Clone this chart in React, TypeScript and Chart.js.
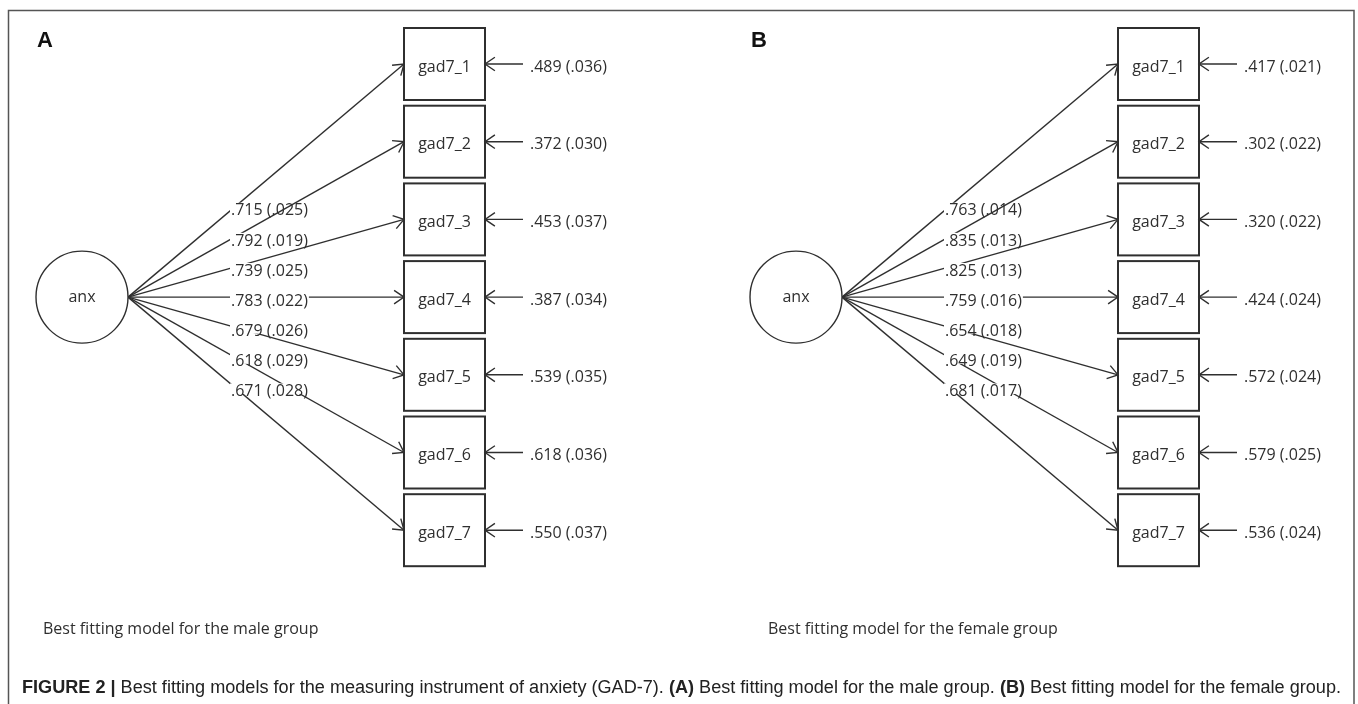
import { useEffect, useRef } from 'react';
import { Chart, registerables } from 'chart.js';

Chart.register(...registerables);

// ---------------- data ----------------
const items = ['gad7_1', 'gad7_2', 'gad7_3', 'gad7_4', 'gad7_5', 'gad7_6', 'gad7_7'];
const latentLabel = 'anx';

const maleLoadings = [0.715, 0.792, 0.739, 0.783, 0.679, 0.618, 0.671];
const maleLoadingSE = [0.025, 0.019, 0.025, 0.022, 0.026, 0.029, 0.028];
const maleResiduals = [0.489, 0.372, 0.453, 0.387, 0.539, 0.618, 0.55];
const maleResidualSE = [0.036, 0.03, 0.037, 0.034, 0.035, 0.036, 0.037];

const femaleLoadings = [0.763, 0.835, 0.825, 0.759, 0.654, 0.649, 0.681];
const femaleLoadingSE = [0.014, 0.013, 0.013, 0.016, 0.018, 0.019, 0.017];
const femaleResiduals = [0.417, 0.302, 0.32, 0.424, 0.572, 0.579, 0.536];
const femaleResidualSE = [0.021, 0.022, 0.022, 0.024, 0.024, 0.025, 0.024];

const panelLetters = ['A', 'B'];
const panelSubtitles = ['Best fitting model for the male group', 'Best fitting model for the female group'];
const captionParts: { text: string; bold: boolean }[] = [
  { text: 'FIGURE 2 |', bold: true },
  { text: ' Best fitting models for the measuring instrument of anxiety (GAD-7). ', bold: false },
  { text: '(A)', bold: true },
  { text: ' Best fitting model for the male group. ', bold: false },
  { text: '(B)', bold: true },
  { text: ' Best fitting model for the female group.', bold: false },
];

// ---------------- layout ----------------
const W = 1358;
const H = 704;
const ROW0 = 64; // pixel centre of first indicator row
const PITCH = 77.7; // pixels between rows
const LATENT_ROW = 3;
const PANEL_OFFSETS = [0, 714];
const ANX_CX = 82;
const ANX_R = 46;
const BOX_L = 404;
const BOX_W = 81;
const BOX_H = 72;
const RES_TAIL = 523;
const RES_TEXT_GAP = 7;
const LABEL_X = 231;
const SUB_X = [43, 768];
const SUB_W = [279, 293];
const SUB_Y = 629;
const LETTER_X = 37;
const LETTER_Y = 47;
const CAP_X = 22;
const CAP_BASE = 693;
const CAP_W = 1319;

const INK = '#2f2f2f';
const DIAG_FONT = '16px "Open Sans"';

const fmt = (v: number) => v.toFixed(3).replace(/^0/, '');

function arrowHead(ctx: CanvasRenderingContext2D, fx: number, fy: number, tx: number, ty: number) {
  const a = Math.atan2(ty - fy, tx - fx);
  const len = 12;
  const sp = 0.6;
  ctx.save();
  ctx.strokeStyle = INK;
  ctx.lineWidth = 1.4;
  ctx.beginPath();
  ctx.moveTo(tx - len * Math.cos(a - sp), ty - len * Math.sin(a - sp));
  ctx.lineTo(tx, ty);
  ctx.lineTo(tx - len * Math.cos(a + sp), ty - len * Math.sin(a + sp));
  ctx.stroke();
  ctx.restore();
}

function buildDatasets() {
  const panels = [
    { l: maleLoadings, ls: maleLoadingSE, r: maleResiduals, rs: maleResidualSE },
    { l: femaleLoadings, ls: femaleLoadingSE, r: femaleResiduals, rs: femaleResidualSE },
  ];
  const ds: any[] = [];
  panels.forEach((p, pi) => {
    const off = PANEL_OFFSETS[pi];
    items.forEach((_, i) => {
      ds.push({
        kind: 'path',
        text: `${fmt(p.l[i])} (${fmt(p.ls[i])})`,
        panel: pi,
        data: [
          { x: off + ANX_CX + ANX_R, y: LATENT_ROW },
          { x: off + BOX_L, y: i },
        ],
        showLine: true,
        borderColor: INK,
        borderWidth: 1.4,
        pointRadius: 0,
        order: 1000 - (pi * 20 + i),
      });
    });
    items.forEach((_, i) => {
      ds.push({
        kind: 'resid',
        text: `${fmt(p.r[i])} (${fmt(p.rs[i])})`,
        panel: pi,
        data: [
          { x: off + RES_TAIL, y: i },
          { x: off + BOX_L + BOX_W, y: i },
        ],
        showLine: true,
        borderColor: INK,
        borderWidth: 1.4,
        pointRadius: 0,
        order: 500,
      });
    });
    ds.push({
      kind: 'latent',
      panel: pi,
      data: [{ x: off + ANX_CX, y: LATENT_ROW }],
      pointRadius: ANX_R,
      pointStyle: 'circle',
      backgroundColor: '#ffffff',
      borderColor: INK,
      borderWidth: 1.4,
      order: 0,
    });
  });
  return ds;
}

const diagramPlugin = {
  id: 'semDiagram',
  beforeDraw(chart: any) {
    const ctx = chart.ctx;
    ctx.save();
    ctx.fillStyle = '#ffffff';
    ctx.fillRect(0, 0, chart.width, chart.height);
    ctx.restore();
  },
  afterDatasetDraw(chart: any, args: any) {
    const ds = chart.data.datasets[args.index];
    const pts = args.meta.data;
    const ctx: CanvasRenderingContext2D = chart.ctx;
    if (ds.kind === 'path') {
      const p0 = pts[0];
      const p1 = pts[1];
      arrowHead(ctx, p0.x, p0.y, p1.x, p1.y);
      const lx = chart.scales.x.getPixelForValue(PANEL_OFFSETS[ds.panel] + LABEL_X);
      const slope = (p1.y - p0.y) / (p1.x - p0.x);
      const ly = p0.y + (lx + 1 - p0.x) * slope;
      const cy = ly + 3 + 3 * slope;
      ctx.save();
      ctx.font = DIAG_FONT;
      const w = ctx.measureText(ds.text).width;
      ctx.fillStyle = '#ffffff';
      ctx.fillRect(lx - 1, cy - 7, w + 2, 10.5);
      ctx.fillStyle = INK;
      ctx.textAlign = 'left';
      ctx.textBaseline = 'alphabetic';
      ctx.fillText(ds.text, lx, cy + 5.7);
      ctx.restore();
    } else if (ds.kind === 'resid') {
      const p0 = pts[0];
      const p1 = pts[1];
      arrowHead(ctx, p0.x, p0.y, p1.x, p1.y);
      ctx.save();
      ctx.font = DIAG_FONT;
      ctx.fillStyle = INK;
      ctx.textAlign = 'left';
      ctx.textBaseline = 'alphabetic';
      ctx.fillText(ds.text, p0.x + RES_TEXT_GAP, p0.y + 7.5);
      ctx.restore();
    }
  },
  afterDatasetsDraw(chart: any) {
    const ctx: CanvasRenderingContext2D = chart.ctx;
    const xs = chart.scales.x;
    const ys = chart.scales.y;
    PANEL_OFFSETS.forEach((off, pi) => {
      // indicator boxes
      items.forEach((name, i) => {
        const cy = ys.getPixelForValue(i);
        const left = xs.getPixelForValue(off + BOX_L);
        const right = xs.getPixelForValue(off + BOX_L + BOX_W);
        ctx.save();
        ctx.strokeStyle = INK;
        ctx.lineWidth = 2;
        ctx.strokeRect(left, cy - BOX_H / 2, right - left, BOX_H);
        ctx.font = DIAG_FONT;
        ctx.fillStyle = INK;
        ctx.textAlign = 'center';
        ctx.textBaseline = 'alphabetic';
        ctx.fillText(name, (left + right) / 2, cy + 7.5);
        ctx.restore();
      });
      // latent label
      const ax = xs.getPixelForValue(off + ANX_CX);
      const ay = ys.getPixelForValue(LATENT_ROW);
      ctx.save();
      ctx.font = DIAG_FONT;
      ctx.fillStyle = INK;
      ctx.textAlign = 'center';
      ctx.textBaseline = 'alphabetic';
      ctx.fillText(latentLabel, ax, ay + 5);
      // panel letter
      ctx.font = 'bold 22px "Liberation Sans", Arial, sans-serif';
      ctx.fillStyle = '#111111';
      ctx.textAlign = 'left';
      ctx.fillText(panelLetters[pi], LETTER_X + off, LETTER_Y);
      // subtitle
      ctx.font = '16px "Open Sans"';
      ctx.fillStyle = INK;
      ctx.textBaseline = 'middle';
      ctx.fillText(panelSubtitles[pi], SUB_X[pi], SUB_Y, SUB_W[pi]);
      ctx.restore();
    });
    // caption
    ctx.save();
    const fontFor = (b: boolean) => `${b ? 'bold ' : ''}18px "Liberation Sans", Arial, sans-serif`;
    let total = 0;
    captionParts.forEach((p) => {
      ctx.font = fontFor(p.bold);
      total += ctx.measureText(p.text).width;
    });
    const k = CAP_W / total;
    ctx.translate(CAP_X, CAP_BASE);
    ctx.scale(k, 1);
    ctx.fillStyle = '#222222';
    ctx.textBaseline = 'alphabetic';
    ctx.textAlign = 'left';
    let x = 0;
    captionParts.forEach((p) => {
      ctx.font = fontFor(p.bold);
      ctx.fillText(p.text, x, 0);
      x += ctx.measureText(p.text).width;
    });
    ctx.restore();
    // outer frame
    ctx.save();
    ctx.strokeStyle = '#555555';
    ctx.lineWidth = 1.5;
    ctx.strokeRect(8.5, 10.5, 1345.5, 720);
    ctx.restore();
  },
};

export default function App() {
  const ref = useRef<HTMLCanvasElement | null>(null);
  useEffect(() => {
    document.body.style.margin = '0';
    const canvas = ref.current;
    if (!canvas) return;
    const chart = new Chart(canvas, {
      type: 'scatter',
      data: { datasets: buildDatasets() },
      options: {
        responsive: false,
        animation: false,
        devicePixelRatio: 1,
        events: [],
        layout: { padding: 0, autoPadding: false },
        plugins: { legend: { display: false }, tooltip: { enabled: false } },
        scales: {
          x: { type: 'linear', min: 0, max: W, display: false },
          y: {
            type: 'linear',
            reverse: true,
            min: -ROW0 / PITCH,
            max: (H - ROW0) / PITCH,
            display: false,
          },
        },
      },
      plugins: [diagramPlugin],
    } as any);
    return () => chart.destroy();
  }, []);
  return (
    <div style={{ width: W, height: H }}>
      <canvas ref={ref} width={W} height={H} style={{ display: 'block' }} />
    </div>
  );
}
